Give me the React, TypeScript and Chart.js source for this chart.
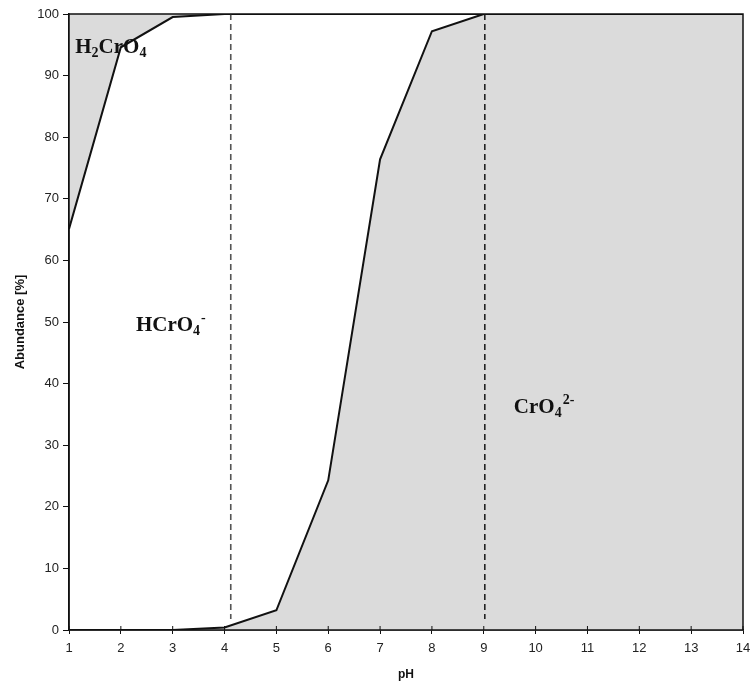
import React, { useEffect, useRef } from 'react';
import { Chart, registerables } from 'chart.js';

Chart.register(...registerables);

const pHValues = [1, 2, 3, 4, 5, 6, 7, 8, 9, 10, 11, 12, 13, 14];
const h2cro4Boundary = [65.1, 94.6, 99.5, 100, 100, 100, 100, 100, 100, 100, 100, 100, 100, 100];
const cro4Boundary = [0, 0, 0, 0.4, 3.2, 24.3, 76.4, 97.2, 100, 100, 100, 100, 100, 100];
const pKaValues = [4.12, 9.02];
const dashBottom = 1.8;
const yTickValues = [0, 10, 20, 30, 40, 50, 60, 70, 80, 90, 100];
const xTitle = 'pH';
const yTitle = 'Abundance [%]';

type Part = { t: string; k: 'n' | 'sub' | 'sup' };
const speciesLabels: { x: number; y: number; parts: Part[] }[] = [
  { x: 1.12, y: 93.7, parts: [{ t: 'H', k: 'n' }, { t: '2', k: 'sub' }, { t: 'CrO', k: 'n' }, { t: '4', k: 'sub' }] },
  { x: 2.29, y: 48.6, parts: [{ t: 'HCrO', k: 'n' }, { t: '4', k: 'sub' }, { t: '-', k: 'sup' }] },
  { x: 9.58, y: 35.2, parts: [{ t: 'CrO', k: 'n' }, { t: '4', k: 'sub' }, { t: '2-', k: 'sup' }] },
];

const FILL = 'rgb(219,219,219)';

const overlayPlugin = {
  id: 'overlay',
  afterDatasetsDraw(chart: any) {
    const { ctx, chartArea, scales } = chart;
    const xs = scales.x;
    const ys = scales.y;
    ctx.save();
    pKaValues.forEach((v, i) => {
      const px = xs.getPixelForValue(v);
      ctx.beginPath();
      ctx.setLineDash([6, 4]);
      ctx.lineWidth = 1.6;
      ctx.strokeStyle = i === 0 ? '#555' : '#222';
      ctx.moveTo(px, ys.getPixelForValue(100));
      ctx.lineTo(px, ys.getPixelForValue(dashBottom));
      ctx.stroke();
    });
    ctx.setLineDash([]);
    ctx.strokeStyle = '#111';
    ctx.lineWidth = 1.5;
    ctx.strokeRect(chartArea.left, chartArea.top, chartArea.right - chartArea.left, chartArea.bottom - chartArea.top);
    ctx.lineWidth = 1;
    pHValues.forEach((v) => {
      const px = xs.getPixelForValue(v);
      ctx.beginPath();
      ctx.moveTo(px, chartArea.bottom);
      ctx.lineTo(px, chartArea.bottom - 4);
      ctx.stroke();
    });
    ctx.fillStyle = '#111';
    ctx.textBaseline = 'alphabetic';
    ctx.textAlign = 'left';
    speciesLabels.forEach((lab) => {
      let px = xs.getPixelForValue(lab.x);
      const py = ys.getPixelForValue(lab.y);
      lab.parts.forEach((p) => {
        if (p.k === 'n') {
          ctx.font = 'bold 21px "Liberation Serif", "DejaVu Serif", serif';
          ctx.fillText(p.t, px, py);
        } else if (p.k === 'sub') {
          ctx.font = 'bold 14px "Liberation Serif", "DejaVu Serif", serif';
          ctx.fillText(p.t, px, py + 4);
        } else {
          ctx.font = 'bold 14px "Liberation Serif", "DejaVu Serif", serif';
          ctx.fillText(p.t, px + 1, py - 9);
        }
        px += ctx.measureText(p.t).width;
      });
    });
    ctx.font = 'bold 12px "Liberation Sans", Arial, sans-serif';
    ctx.textAlign = 'center';
    ctx.textBaseline = 'middle';
    ctx.fillText(xTitle, (chartArea.left + chartArea.right) / 2, 675);
    ctx.font = 'bold 13px "Liberation Sans", Arial, sans-serif';
    ctx.translate(20, (chartArea.top + chartArea.bottom) / 2);
    ctx.rotate(-Math.PI / 2);
    ctx.fillText(yTitle, 0, 0);
    ctx.restore();
  },
};

export default function App() {
  const ref = useRef<HTMLCanvasElement | null>(null);
  useEffect(() => {
    if (!ref.current) return;
    const chart = new Chart(ref.current, {
      type: 'line',
      data: {
        labels: pHValues,
        datasets: [
          {
            data: pHValues.map((x, i) => ({ x, y: h2cro4Boundary[i] })),
            borderColor: '#111',
            borderWidth: 2,
            pointRadius: 0,
            fill: 'end',
            backgroundColor: FILL,
            tension: 0,
          },
          {
            data: pHValues.map((x, i) => ({ x, y: cro4Boundary[i] })),
            borderColor: '#111',
            borderWidth: 2,
            pointRadius: 0,
            fill: 'start',
            backgroundColor: FILL,
            tension: 0,
          },
        ],
      },
      options: {
        animation: false,
        responsive: false,
        maintainAspectRatio: false,
        layout: { padding: { left: 0, right: 8, top: 14, bottom: 0 } },
        plugins: { legend: { display: false }, tooltip: { enabled: false }, title: { display: false } },
        scales: {
          x: {
            type: 'linear',
            min: 1,
            max: 14,
            afterBuildTicks: (s: any) => {
              s.ticks = pHValues.map((v) => ({ value: v }));
            },
            afterFit: (s: any) => {
              s.height = 54;
              s.paddingLeft = 0;
              s.paddingRight = 0;
            },
            border: { display: true, color: '#111', width: 1.5 },
            grid: { drawOnChartArea: false, drawTicks: true, tickLength: 4, color: '#111' },
            ticks: {
              color: '#222',
              font: { family: '"Liberation Sans", Arial, sans-serif', size: 13 },
              padding: 7,
              maxRotation: 0,
              autoSkip: false,
            },
          },
          y: {
            type: 'linear',
            min: 0,
            max: 100,
            afterBuildTicks: (s: any) => {
              s.ticks = yTickValues.map((v) => ({ value: v }));
            },
            afterFit: (s: any) => {
              s.width = 69;
              s.paddingTop = 0;
              s.paddingBottom = 0;
            },
            border: { display: true, color: '#111', width: 1.5 },
            grid: { drawOnChartArea: false, drawTicks: true, tickLength: 6, color: '#111' },
            ticks: {
              color: '#222',
              font: { family: '"Liberation Sans", Arial, sans-serif', size: 13 },
              padding: 4,
              autoSkip: false,
            },
          },
        },
      },
      plugins: [overlayPlugin],
    } as any);
    return () => chart.destroy();
  }, []);
  return (
    <div style={{ position: 'absolute', left: 0, top: 0, width: 751, height: 684, background: '#fff' }}>
      <canvas ref={ref} width={751} height={684} style={{ width: 751, height: 684, display: 'block' }} />
    </div>
  );
}
